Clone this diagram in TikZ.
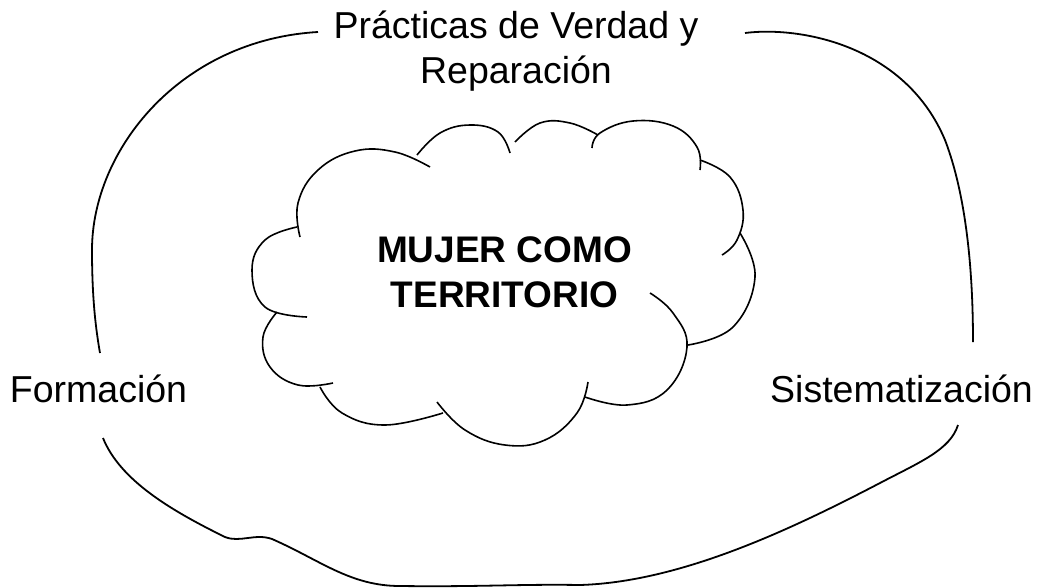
\documentclass[tikz,border=0pt]{standalone}
\usepackage{fontspec}
\setmainfont{Liberation Sans}
\tikzstyle{tag}=[inner sep=0pt, anchor=base, align=center, font=\fontsize{37.5}{45}\selectfont]
\tikzstyle{title}=[tag, font=\fontsize{37}{45}\selectfont\bfseries]
\tikzstyle{link}=[line width=1.8pt]
\tikzstyle{puff}=[line width=1.6pt, smooth, tension=0.7]

\begin{document}
\begin{tikzpicture}[x=1pt, y=-1pt]
            \useasboundingbox (0,0) rectangle (1037,587);
            \node (1)[tag] at (516,83) {Prácticas de Verdad y\\Reparación};
            \node (2)[tag] at (98.5,402) {Formación};
            \node (3)[tag] at (901.5,402) {Sistematización};
            \node (4)[title] at (504.5,307) {MUJER COMO\\TERRITORIO};

            % cloud lobes
            \draw[puff] plot coordinates {(300,237) (298,203) (318,170) (355,151) (395,152) (430,167)};
            \draw[puff] plot coordinates {(417,155) (440,133) (470,125) (498,132) (510,153)};
            \draw[puff] plot coordinates {(515,142) (540,123) (570,123) (598,135)};
            \draw[puff] plot coordinates {(592,148) (600,133) (633,121) (673,126) (697,147) (700,170)};
            \draw[puff] plot coordinates {(700,160) (730,177) (743,210) (737,240) (722,255)};
            \draw[puff] plot coordinates {(740,233) (755,277) (733,327) (688,345)};
            \draw[puff] plot coordinates {(650,293) (673,313) (687,347) (667,390) (627,405) (585,397)};
            \draw[puff] plot coordinates {(588,382) (577,413) (545,440) (505,445) (465,430) (437,402)};
            \draw[puff] plot coordinates {(443,413) (385,425) (342,413) (320,387)};
            \draw[puff] plot coordinates {(333,383) (298,385) (270,367) (263,337) (277,312)};
            \draw[puff] plot coordinates {(307,317) (265,307) (252,270) (265,240) (297,227)};

            % links
            \draw[link] ([xshift=-198pt,yshift=51pt]1.base) .. controls (180,40) and (92,150) .. (92,250)
                .. controls (92,300) and (96,330) .. ([xshift=1.5pt,yshift=49pt]2.base);
            \draw[link] ([xshift=229pt,yshift=50pt]1.base) .. controls (800,26) and (905,45) .. (945,140)
                .. controls (968,200) and (973,280) .. ([xshift=71.5pt,yshift=60pt]3.base);
            \draw[link] ([xshift=4.5pt,yshift=-36pt]2.base) .. controls (120,480) and (170,510) .. (225,537)
                .. controls (240,543) and (255,533) .. (272,539) .. controls (320,560) and (350,586) .. (400,586)
                .. controls (480,587) and (520,584) .. (580,585) .. controls (680,582) and (790,530) .. (880,483)
                .. controls (920,462) and (950,450) .. ([xshift=56.5pt,yshift=-23pt]3.base);
\end{tikzpicture}
\end{document}
